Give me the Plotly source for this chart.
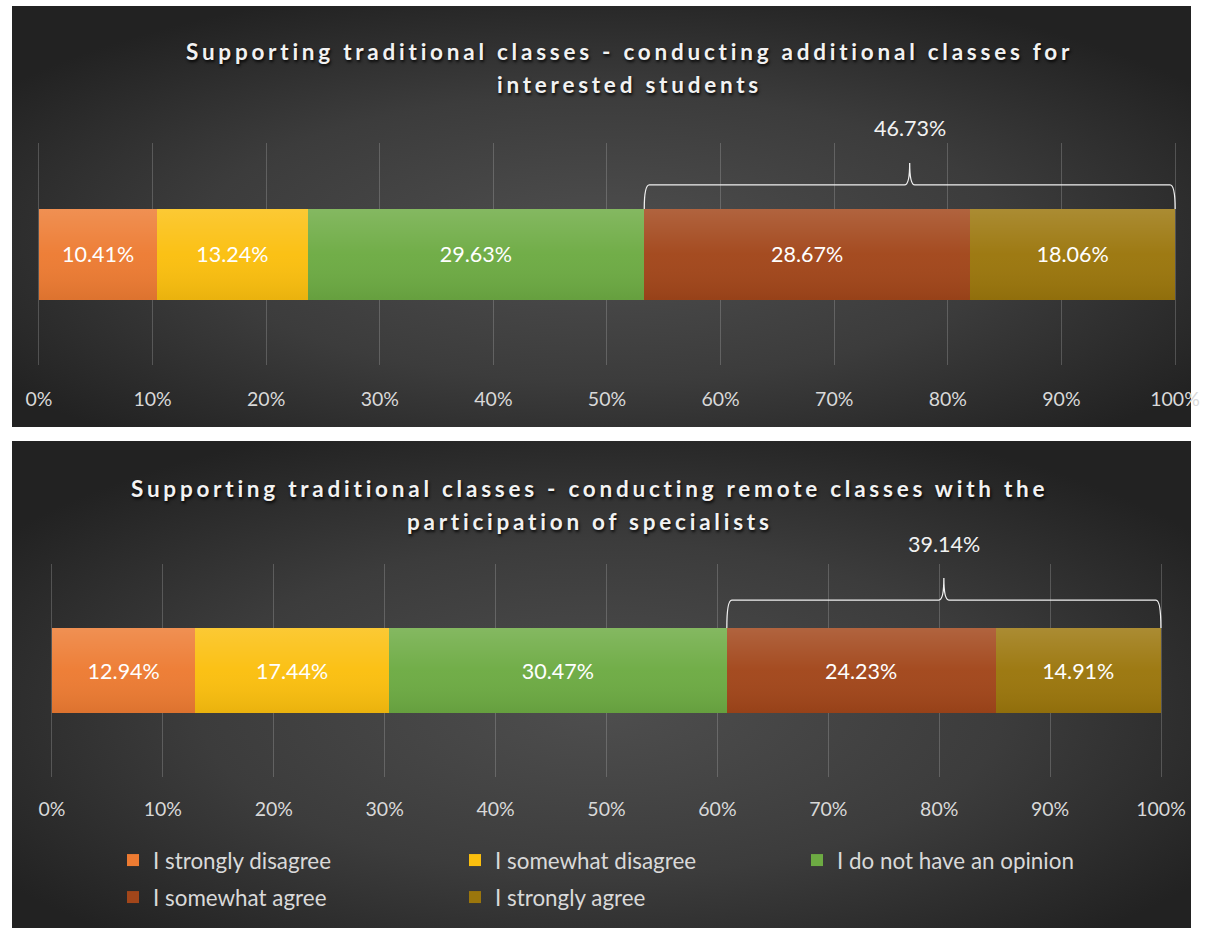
import base64
import plotly.graph_objects as go

# ---------------- data ----------------
categories = ["I strongly disagree", "I somewhat disagree", "I do not have an opinion",
              "I somewhat agree", "I strongly agree"]
additional_classes = [10.41, 13.24, 29.63, 28.67, 18.06]
remote_classes = [12.94, 17.44, 30.47, 24.23, 14.91]
title_top = ["Supporting traditional classes - conducting additional classes for",
             "interested students"]
title_bottom = ["Supporting traditional classes - conducting remote classes with the",
                "participation of specialists"]
tick_vals = list(range(0, 101, 10))
tick_text = [f"{v}%" for v in tick_vals]
agree_idx = [3, 4]

# ---------------- styles ----------------
colors = ["#ED7B32", "#FBBF0E", "#6DAB43", "#A2461A", "#9B760C"]
W, H = 1214, 928
FONT = "Lato"
TXT = "#d9d9d9"
# horizontal calibration of the capture (picture x = OX + SX * figure x)
OX, SX = 12.0, 0.972


def fx(xr):
    """figure-pixel x for a wanted picture-pixel x, clamped to the figure."""
    return min(max((xr - OX) / SX, 0), W)


def px(xr):
    return fx(xr) / W


def py(y):
    return 1 - y / H


def svg_uri(svg):
    return "data:image/svg+xml;base64," + base64.b64encode(svg.encode()).decode()


def bg_uri(w, h):
    return svg_uri(
        f'<svg xmlns="http://www.w3.org/2000/svg" width="{w}" height="{h}" '
        f'viewBox="0 0 {w} {h}" preserveAspectRatio="none"><defs>'
        '<radialGradient id="g" cx="0.5" cy="0.55" r="0.62">'
        '<stop offset="0" stop-color="#4e4e4e"/>'
        '<stop offset="0.55" stop-color="#3c3c3c"/>'
        '<stop offset="1" stop-color="#222222"/></radialGradient></defs>'
        f'<rect width="{w}" height="{h}" fill="url(#g)"/></svg>')


SHEEN = svg_uri(
    '<svg xmlns="http://www.w3.org/2000/svg" width="100" height="100" '
    'viewBox="0 0 100 100" preserveAspectRatio="none"><defs>'
    '<linearGradient id="s" x1="0" y1="0" x2="0" y2="1">'
    '<stop offset="0" stop-color="#ffffff" stop-opacity="0.16"/>'
    '<stop offset="0.5" stop-color="#ffffff" stop-opacity="0.03"/>'
    '<stop offset="1" stop-color="#000000" stop-opacity="0.07"/>'
    '</linearGradient></defs><rect width="100" height="100" fill="url(#s)"/></svg>')

panels = [
    dict(values=additional_classes, xa="x", ya="y", title=title_top, legend=False,
         x0px=39, x100px=1176, ydom=(143, 365), yr=(-1.215, 1.225), standoff=20,
         box=(8, 6, 1212, 427), tline=(52, 85), tx=630,
         brace_h=0.764, brace_tip=1.005, label_y=128),
    dict(values=remote_classes, xa="x2", ya="y2", title=title_bottom, legend=True,
         x0px=52, x100px=1162, ydom=(564, 777), yr=(-1.253, 1.253), standoff=18,
         box=(7, 441, 1212, 928), tline=(488, 521), tx=590,
         brace_h=0.829, brace_tip=1.088, label_y=544),
]

fig = go.Figure()
layout = dict(
    width=W, height=H, margin=dict(l=0, r=0, t=0, b=0),
    paper_bgcolor="white", plot_bgcolor="rgba(0,0,0,0)",
    barmode="stack", showlegend=True,
    font=dict(family=FONT, color=TXT),
    images=[], annotations=[], shapes=[],
)

PAD = 0.15
for i, p in enumerate(panels):
    for k, (cat, val, col) in enumerate(zip(categories, p["values"], colors)):
        fig.add_trace(go.Bar(
            x=[val], y=[0], orientation="h", width=1, name=cat,
            marker=dict(color=col, line=dict(width=0)),
            text=[f"{val:.2f}%"], textposition="inside", insidetextanchor="middle",
            textfont=dict(family=FONT, size=21.5, color="white"),
            xaxis=p["xa"], yaxis=p["ya"], showlegend=p["legend"],
            legend="legend" if k < 3 else "legend2",
            legendgroup=cat, hoverinfo="x+name",
        ))
    axn = "" if i == 0 else "2"
    f0, f100 = fx(p["x0px"]), fx(p["x100px"])
    unit = (f100 - f0) / 100
    layout["xaxis" + axn] = dict(
        domain=[(f0 - PAD * unit) / W, (f100 + PAD * unit) / W],
        range=[-PAD, 100 + PAD],
        tickvals=tick_vals, ticktext=tick_text, showgrid=True,
        gridcolor="rgba(200,200,200,0.26)", gridwidth=1, zeroline=False,
        showline=False, ticks="", ticklabelstandoff=p["standoff"],
        tickfont=dict(family=FONT, size=19.5, color=TXT),
        anchor="y" + axn, fixedrange=True,
    )
    layout["yaxis" + axn] = dict(
        domain=[py(p["ydom"][1]), py(p["ydom"][0])], range=list(p["yr"]),
        visible=False, anchor="x" + axn, fixedrange=True,
    )
    x0, y0, x1, y1 = p["box"]
    bx_l, bx_r = fx(x0), fx(x1)
    layout["images"].append(dict(
        source=bg_uri(int(bx_r - bx_l), y1 - y0), xref="paper", yref="paper",
        x=bx_l / W, y=py(y0), sizex=(bx_r - bx_l) / W, sizey=(y1 - y0) / H,
        xanchor="left", yanchor="top", sizing="stretch", layer="below"))
    # soft vertical sheen across the stacked bar (spans the data total)
    layout["images"].append(dict(
        source=SHEEN, xref=p["xa"], yref=p["ya"], x=0, y=0.5,
        sizex=sum(p["values"]), sizey=1, xanchor="left", yanchor="top",
        sizing="stretch", layer="above"))
    for line, ty in zip(p["title"], p["tline"]):
        layout["annotations"].append(dict(
            text=f'<span style="letter-spacing:3.76px">{line}</span>',
            xref="paper", yref="paper", x=px(p["tx"]), y=py(ty),
            xanchor="center", yanchor="middle", showarrow=False,
            font=dict(family=FONT, size=22.5, color="#f2f2f2", weight="bold",
                      shadow="1px 2px 3px rgba(0,0,0,0.9)")))
    # brace over the "agree" segments
    vals = p["values"]
    bx0 = sum(vals[:agree_idx[0]])
    bx1 = bx0 + sum(vals[j] for j in agree_idx)
    bm = (bx0 + bx1) / 2
    yh, yt, yb = p["brace_h"], p["brace_tip"], 0.5
    dx = 0.45
    path = (f"M {bx0},{yb} Q {bx0},{yh} {bx0 + dx},{yh} L {bm - dx},{yh} "
            f"Q {bm},{yh} {bm},{yt} Q {bm},{yh} {bm + dx},{yh} L {bx1 - dx},{yh} "
            f"Q {bx1},{yh} {bx1},{yb}")
    layout["shapes"].append(dict(type="path", path=path, xref=p["xa"], yref=p["ya"],
                                 line=dict(color="#f0f0f0", width=1.3)))
    layout["annotations"].append(dict(
        text=f"{bx1 - bx0:.2f}%", xref=p["xa"], yref="paper", x=bm, y=py(p["label_y"]),
        xanchor="center", yanchor="middle", showarrow=False,
        font=dict(family=FONT, size=21.5, color="#f2f2f2")))

legend_common = dict(
    orientation="h", xanchor="left", yanchor="top",
    entrywidth=297, entrywidthmode="pixels", traceorder="normal",
    font=dict(family=FONT, size=22.4, color=TXT), bgcolor="rgba(0,0,0,0)",
    itemclick=False, itemdoubleclick=False,
)
layout["legend"] = dict(x=104 / W, y=py(839), **legend_common)
layout["legend2"] = dict(x=104 / W, y=py(876), **legend_common)

fig.update_layout(**layout)
fig.write_html(
    "out.html",
    config={"displayModeBar": False},
    post_script="document.body.style.margin='0px';"
                "document.documentElement.style.overflow='hidden';",
)
